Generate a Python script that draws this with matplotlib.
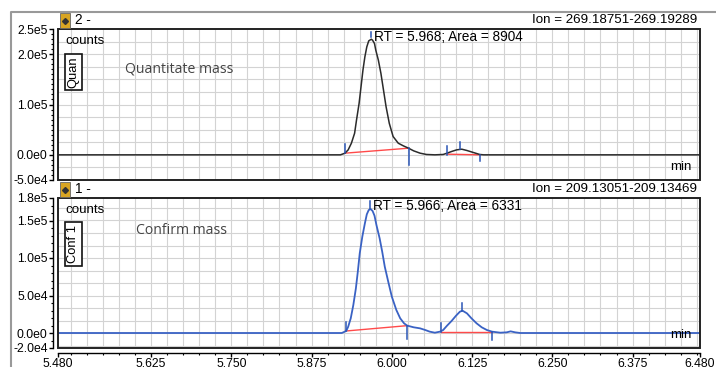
import numpy as np
import matplotlib
matplotlib.use("Agg")
import matplotlib.pyplot as plt
from matplotlib.patches import Rectangle
from matplotlib.lines import Line2D

W, H = 716, 367
PT = 0.72  # points per pixel at 100 dpi

# ---- data ----
# upper trace (Quan, ion 269.18751-269.19289)
quan_rt = [5.480, 5.920, 5.927, 5.932, 5.937, 5.942, 5.945, 5.949, 5.952, 5.955,
           5.958, 5.961, 5.964, 5.968, 5.970, 5.973, 5.975, 5.979, 5.983, 5.987,
           5.991, 5.996, 6.002, 6.010, 6.018, 6.026, 6.034, 6.044, 6.054, 6.067,
           6.080, 6.086, 6.093, 6.101, 6.109, 6.117, 6.127, 6.137, 6.143, 6.480]
quan_counts = [0, 0, 3300, 9900, 23100, 42900, 69300, 102300, 135300, 168300,
               194700, 214500, 226400, 229700, 227700, 221100, 207900, 188100, 161700, 128700,
               95700, 62700, 36300, 23100, 17800, 13200, 7900, 3300, 700, 0,
               700, 3300, 6600, 9900, 11200, 8600, 4600, 700, 0, 0]

# lower trace (Conf 1, ion 209.13051-209.13469)
conf_rt = [5.480, 5.922, 5.929, 5.932, 5.936, 5.940, 5.944, 5.947, 5.950, 5.954,
           5.958, 5.961, 5.964, 5.967, 5.970, 5.973, 5.976, 5.981, 5.985, 5.989,
           5.995, 6.000, 6.007, 6.013, 6.019, 6.024, 6.034, 6.044, 6.052, 6.059,
           6.067, 6.075, 6.080, 6.086, 6.093, 6.100, 6.106, 6.110, 6.117, 6.124,
           6.132, 6.140, 6.148, 6.156, 6.169, 6.179, 6.185, 6.192, 6.200, 6.480]
conf_counts = [0, 0, 2700, 8400, 19600, 37300, 59600, 81800, 106200, 128400,
               146200, 158200, 164000, 165300, 162700, 156400, 144000, 126200, 108400, 88400,
               66200, 48400, 30700, 19600, 12900, 9800, 7600, 6200, 4000, 1800,
               400, 1800, 4000, 9800, 16000, 23100, 28400, 29800, 26200, 19600,
               12900, 7600, 4000, 1800, 400, 900, 2200, 900, 0, 0]

# integration marks: (rt, low, high)
quan_marks = [(5.927, 3300, 21800), (5.968, 233600, 244000), (6.026, -19800, 13200),
              (6.086, 0, 17800), (6.106, 11200, 26400), (6.138, -13200, 0)]
quan_base = [((5.927, 6.026), (3300, 13200)), ((6.086, 6.138), (1300, 0))]
conf_marks = [(5.929, 2700, 14200), (5.966, 166000, 175500), (6.024, -8000, 9800),
              (6.076, 1800, 12900), (6.110, 29800, 39600), (6.156, -9300, 1800)]
conf_base = [((5.929, 6.024), (2700, 9800)), ((6.076, 6.156), (1800, 1800))]

quan_yticks = [-5e4, 0, 1e5, 2e5, 2.5e5]
quan_ylabels = ["-5.0e4", "0.0e0", "1.0e5", "2.0e5", "2.5e5"]
conf_yticks = [-2e4, 0, 5e4, 1e5, 1.5e5, 1.8e5]
conf_ylabels = ["-2.0e4", "0.0e0", "5.0e4", "1.0e5", "1.5e5", "1.8e5"]
xticks = [5.480, 5.625, 5.750, 5.875, 6.000, 6.125, 6.250, 6.375, 6.480]

plt.rcParams["font.family"] = ["Liberation Sans", "DejaVu Sans"]

fig = plt.figure(figsize=(W / 100, H / 100), dpi=100)


def fx(px):
    return px / W


def fy(py):
    return 1 - py / H


def panel(top, bottom, ylim, yticks, ylabels, hgrid, rt, counts, color, lw, marks, bases,
          tag, ion, side, note, note_pos, rt_label, show_x):
    ax = fig.add_axes([fx(58), fy(bottom), 642 / W, (bottom - top) / H])
    ax.set_xlim(5.48, 6.48)
    ax.set_ylim(*ylim)
    for y in hgrid:
        ax.axhline(y, color="#d3d3d3", lw=0.8, zorder=0)
    for x in np.arange(5.5, 6.48, 0.025):
        ax.axvline(x, color="#d3d3d3", lw=0.8, zorder=0)

    ax.plot(rt, counts, color=color, lw=lw, zorder=3)
    for (x0, x1), (y0, y1) in bases:
        ax.plot([x0, x1], [y0, y1], color="#ff4a4a", lw=1.0, zorder=2)
    for x, lo, hi in marks:
        ax.plot([x, x], [lo, hi], color="#2a55b5", lw=1.1, zorder=4)

    apex = marks[1]
    ax.annotate(rt_label, xy=(apex[0], apex[2]), xytext=(3, -5),
                textcoords="offset pixels", ha="left", va="center", fontsize=9.8)

    ax.spines[["top", "right"]].set_visible(False)
    ax.add_patch(Rectangle((0, 0), 1, 1, transform=ax.transAxes, fill=False,
                           lw=1.4, ec="#222222", clip_on=False, zorder=6))
    ax.spines["left"].set_position(("outward", 5 * PT))
    ax.spines["left"].set_linewidth(1.0)
    ax.set_yticks(yticks)
    ax.set_yticklabels(ylabels)
    ax.set_yticks(np.arange(ylim[0], ylim[1] + 1, 1e4), minor=True)
    ax.tick_params(axis="y", which="major", length=4 * PT, width=1, pad=1.5 * PT, labelsize=8.8)
    ax.tick_params(axis="y", which="minor", length=2.5 * PT, width=0.8)

    if show_x:
        ax.spines["bottom"].set_position(("outward", 5 * PT))
        ax.spines["bottom"].set_linewidth(1.0)
        ax.set_xticks(xticks)
        ax.set_xticklabels([f"{t:.3f}" for t in xticks])
        ax.set_xticks(np.arange(5.5, 6.48, 0.025), minor=True)
        ax.tick_params(axis="x", which="major", length=4 * PT, width=1, pad=1 * PT, labelsize=8.8)
        ax.tick_params(axis="x", which="minor", length=2.5 * PT, width=0.8)
    else:
        ax.spines["bottom"].set_visible(False)
        ax.set_xticks([])

    ax.text(0.011, 1 - 12 / (bottom - top), "counts", transform=ax.transAxes,
            ha="left", va="center", fontsize=9.6)
    ax.text(0.9875, 13 / (bottom - top), "min", transform=ax.transAxes,
            ha="right", va="center", fontsize=9.6)
    ax.text(0.024, side, tag, transform=ax.transAxes, rotation=90, ha="center",
            va="center", fontsize=9.3,
            bbox=dict(boxstyle="square,pad=0.2", fc="white", ec="#111111", lw=1.2))
    ax.text(note_pos[0], note_pos[1], note, transform=ax.transAxes, ha="left",
            va="center", fontsize=10.1, color="#444444", family="Open Sans")

    # header strip above the panel
    fig.add_artist(Rectangle((fx(60), fy(top - 1)), 10 / W, 15 / H, transform=fig.transFigure,
                             fc="#d8a523", ec="#666666", lw=0.6))
    fig.add_artist(Line2D([fx(65)], [fy(top - 8)], marker="D", ms=3, color="#333333",
                          transform=fig.transFigure))
    fig.text(fx(75), fy(top - 9), ion[0], ha="left", va="center", fontsize=9.8)
    fig.text(fx(697), fy(top - 9), ion[1], ha="right", va="center", fontsize=9.6)
    return ax


panel(29, 180, (-5e4, 2.5e5), quan_yticks, quan_ylabels, np.arange(-5e4, 2.5e5, 2.5e4),
      quan_rt, quan_counts, "#2b2b2b", 1.1, quan_marks, quan_base,
      "Quan", ("2 -", "Ion = 269.18751-269.19289"), 0.715, "Quantitate mass",
      (0.104, 0.735), "RT = 5.968; Area = 8904", False)

panel(198, 348, (-2e4, 1.8e5), conf_yticks, conf_ylabels, np.arange(-5e4 / 3, 1.8e5, 5e4 / 3),
      conf_rt, conf_counts, "#3a62c4", 1.3, conf_marks, conf_base,
      "Conf 1", ("1 -", "Ion = 209.13051-209.13469"), 0.693, "Confirm mass",
      (0.1215, 0.78), "RT = 5.966; Area = 6331", True)

# outer window frame
fig.add_artist(Line2D([fx(11), fx(11), 1.0], [0.0, fy(12), fy(12)], color="#999999",
                      lw=1.5, transform=fig.transFigure))

fig.savefig("out.png", dpi=100)
